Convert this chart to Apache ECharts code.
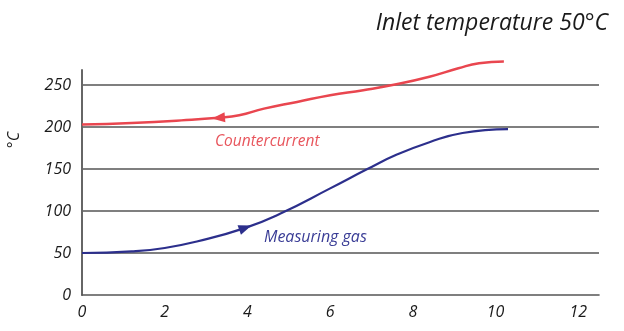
<!DOCTYPE html>
<html>
<head>
<meta charset="utf-8">
<script src="https://cdn.jsdelivr.net/npm/echarts@6/dist/echarts.min.js"></script>
<style>
html,body{margin:0;padding:0;background:#fff;}
#c{width:624px;height:331px;}
</style>
</head>
<body>
<div id="c"></div>
<script>
// Data
var titleText = 'Inlet temperature 50°C';
var yAxisName = '°C';
var counterName = 'Countercurrent';
var gasName = 'Measuring gas';

var xCounter = [0, 1.2, 2.4, 3.3, 3.8, 4.4, 5.2, 6.0, 6.8, 7.6, 8.4, 9.1, 9.6, 10.2];
var yCounter = [203, 205, 208, 211, 214, 222, 230, 238, 244, 251, 260, 270, 276, 278];
var counterArrowIndex = 3;

var xGas = [0, 1.2, 2.0, 2.8, 3.95, 4.8, 6.0, 6.9, 7.6, 8.4, 9.2, 10.3];
var yGas = [50, 52, 56, 64, 80, 97, 127, 150, 167, 182, 193, 197.5];
var gasArrowIndex = 4;

var xMin = 0, xMax = 12.5, xStep = 2;
var yMin = 0, yMax = 268, yStep = 50;

function buildData(xs, ys, arrowIdx, rot) {
  return xs.map(function (x, i) {
    var item = { value: [x, ys[i]] };
    if (i === arrowIdx) {
      item.symbol = 'triangle';
      item.symbolSize = [10, 13];
      item.symbolRotate = rot;
    }
    return item;
  });
}

var red = '#e9464f';
var blue = '#2c2f8c';
var font = 'Open Sans';

var chart = echarts.init(document.getElementById('c'), null, { renderer: 'canvas' });
chart.setOption({
  animation: false,
  backgroundColor: '#fff',
  title: {
    text: titleText,
    right: 11,
    top: 7,
    textStyle: { fontFamily: font, fontStyle: 'italic', fontWeight: 'normal', fontSize: 23, color: '#1a1a1a' }
  },
  grid: { left: 82, right: 25, top: 70, bottom: 36, containLabel: false },
  xAxis: {
    type: 'value',
    min: xMin, max: xMax, interval: xStep,
    axisLine: { show: true, lineStyle: { color: '#555', width: 1.6 } },
    axisTick: { show: false },
    splitLine: { show: false },
    axisLabel: {
      showMaxLabel: false,
      margin: 9,
      fontFamily: font, fontStyle: 'italic', fontSize: 16, color: '#1a1a1a'
    }
  },
  yAxis: {
    type: 'value',
    min: yMin, max: yMax, interval: yStep,
    axisLine: { show: true, lineStyle: { color: '#666', width: 2 } },
    axisTick: { show: false },
    splitLine: { show: true, showMinLine: false, showMaxLine: false, lineStyle: { color: '#555', width: 1.6 } },
    axisLabel: {
      showMaxLabel: false,
      margin: 11,
      fontFamily: font, fontStyle: 'italic', fontSize: 16, color: '#1a1a1a'
    }
  },
  graphic: [
    {
      type: 'text', x: 14, y: 140, rotation: Math.PI / 2,
      style: { text: yAxisName, font: 'italic 16px "Open Sans"', fill: '#1a1a1a', align: 'center', verticalAlign: 'middle' }
    },
    {
      type: 'text', x: 215, y: 142,
      style: { text: counterName, font: 'italic 15.5px "Open Sans"', fill: '#e8555c', align: 'left', verticalAlign: 'middle' }
    },
    {
      type: 'text', x: 264, y: 237,
      style: { text: gasName, font: 'italic 16px "Open Sans"', fill: '#3a3d96', align: 'left', verticalAlign: 'middle' }
    }
  ],
  series: [
    {
      name: counterName,
      type: 'line',
      data: buildData(xCounter, yCounter, counterArrowIndex, 95),
      smooth: 0.5,
      clip: false,
      symbol: 'none',
      showSymbol: true,
      lineStyle: { color: red, width: 2.5 },
      itemStyle: { color: red },
      z: 3
    },
    {
      name: gasName,
      type: 'line',
      data: buildData(xGas, yGas, gasArrowIndex, -70),
      smooth: 0.5,
      clip: false,
      symbol: 'none',
      showSymbol: true,
      lineStyle: { color: blue, width: 2.2 },
      itemStyle: { color: blue },
      z: 3
    }
  ]
});
</script>
</body>
</html>
